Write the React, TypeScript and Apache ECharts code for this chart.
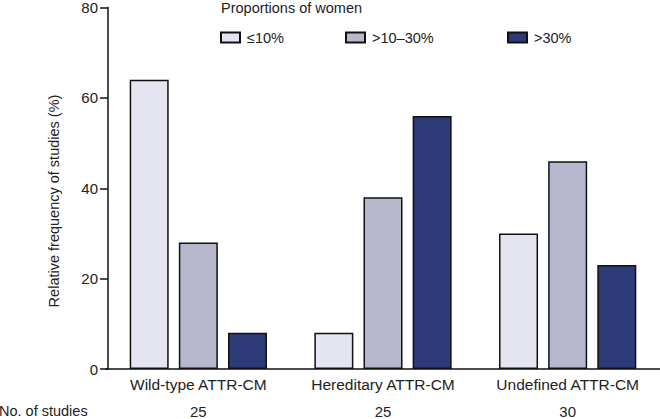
import React, { useEffect, useRef } from "react";
import * as echarts from "echarts";

const categories = ["Wild-type ATTR-CM", "Hereditary ATTR-CM", "Undefined ATTR-CM"];
const studyCounts = ["25", "25", "30"];
const seriesNames = ["≤10%", ">10–30%", ">30%"];
const lowValues = [64, 8, 30];
const midValues = [28, 38, 46];
const highValues = [8, 56, 23];
const yTicks = { min: 0, max: 80, interval: 20 };
const colors = ["#e5e5f1", "#b7b7cd", "#2c3a78"];

const FONT = "'Liberation Sans', Arial, Helvetica, sans-serif";

export default function App() {
  const ref = useRef<HTMLDivElement>(null);
  useEffect(() => {
    if (!ref.current) return;
    const chart = echarts.init(ref.current, undefined, { renderer: "svg" });
    const values = [lowValues, midValues, highValues];
    const legendLefts = [220, 345, 507];
    chart.setOption({
      animation: false,
      textStyle: { fontFamily: FONT, color: "#222" },
      title: {
        text: "Proportions of women",
        left: 221,
        top: 0,
        padding: 0,
        textStyle: { fontSize: 14.5, fontWeight: "normal", color: "#222", fontFamily: FONT },
      },
      legend: seriesNames.map((n, i) => ({
        data: [n],
        left: legendLefts[i],
        top: 30,
        padding: 0,
        itemWidth: 19,
        itemHeight: 10,
        icon: "rect",
        selectedMode: false,
        textStyle: { fontSize: 14.5, color: "#222", fontFamily: FONT, padding: [0, 0, 0, 2] },
      })),
      grid: { left: 106, right: -1, top: 4, bottom: 48, containLabel: false },
      xAxis: [
        {
          type: "category",
          data: categories,
          axisLine: { show: true, lineStyle: { color: "#111", width: 1.5 } },
          axisTick: { show: false },
          axisLabel: { interval: 0, fontSize: 15.5, color: "#222", margin: 7, fontFamily: FONT },
        },
        {
          type: "category",
          data: studyCounts,
          position: "bottom",
          offset: 27,
          axisLine: { show: false },
          axisTick: { show: false },
          axisLabel: { interval: 0, fontSize: 15, color: "#222", margin: 8, fontFamily: FONT },
        },
      ],
      yAxis: {
        type: "value",
        min: yTicks.min,
        max: yTicks.max,
        interval: yTicks.interval,
        offset: -2,
        axisLine: { show: true, lineStyle: { color: "#111", width: 1.5 } },
        axisTick: { show: true, length: 8, lineStyle: { color: "#111", width: 1.5 } },
        splitLine: { show: false },
        axisLabel: { fontSize: 15, color: "#222", margin: 10, fontFamily: FONT },
      },
      graphic: [
        {
          type: "text",
          x: 54,
          y: 201,
          rotation: Math.PI / 2,
          style: {
            text: "Relative frequency of studies (%)",
            fontSize: 14.5,
            fill: "#222",
            fontFamily: FONT,
            align: "center",
            verticalAlign: "middle",
          },
        },
        {
          type: "text",
          x: -1,
          y: 411,
          style: {
            text: "No. of studies",
            fontSize: 14.5,
            fill: "#222",
            fontFamily: FONT,
            align: "left",
            verticalAlign: "middle",
          },
        },
      ],
      series: seriesNames.map((n, i) => ({
        name: n,
        type: "bar",
        xAxisIndex: 0,
        data: values[i],
        barWidth: 39,
        barGap: "26%",
        itemStyle: { color: colors[i], borderColor: "#111", borderWidth: 1.5 },
      })),
    });
    return () => chart.dispose();
  }, []);
  return (
    <div
      ref={ref}
      style={{ position: "fixed", left: 0, top: 0, width: 660, height: 419, background: "#fff" }}
    />
  );
}
